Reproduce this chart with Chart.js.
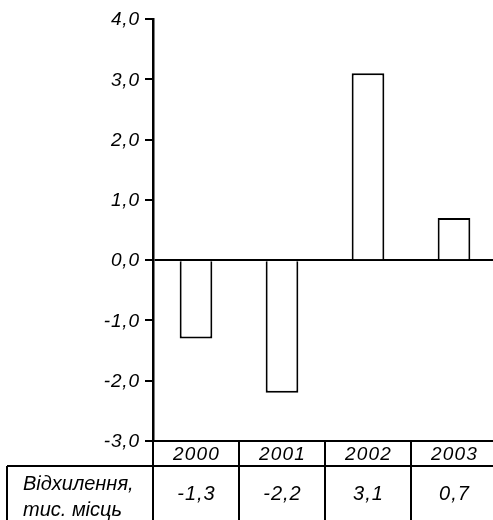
<!DOCTYPE html>
<html lang="uk">
<head>
    <meta charset="UTF-8">
    <title>Відхилення, тис. місць</title>
    <script src="https://cdn.jsdelivr.net/npm/chart.js"></script>
    <style>
        html, body {
            margin: 0;
            padding: 0;
            background: #fff;
            overflow: hidden;
        }
        .chart-container {
            width: 500px;
            height: 520px;
        }
    </style>
</head>
<body>
    <div class="chart-container">
        <canvas id="chart"></canvas>
    </div>

    <script>
        // data
        const years = ['2000', '2001', '2002', '2003'];
        const deviation = [-1.3, -2.2, 3.1, 0.7];
        const rowLabel = ['Відхилення,', 'тис. місць'];
        const yMin = -3;
        const yMax = 4;
        const yStep = 1;

        const FONT = "'Liberation Sans', Arial, sans-serif";
        const comma = v => v.toFixed(1).replace('.', ',');

        const YEAR_ROW = 25;   // height of the row with the years

        // the scanned figure has a bit of letter spacing: draw char by char
        function spaced(ctx, str, x, y, gap, align) {
            const chars = [...str];
            const widths = chars.map(c => ctx.measureText(c).width);
            const total = widths.reduce((a, b) => a + b, 0) + gap * (chars.length - 1);
            let cx = align === 'right' ? x - total : align === 'center' ? x - total / 2 : x;
            ctx.textAlign = 'left';
            chars.forEach((c, i) => {
                ctx.fillText(c, cx, y);
                cx += widths[i] + gap;
            });
        }

        const tablePlugin = {
            id: 'table',
            afterDraw(chart) {
                const { ctx, chartArea } = chart;
                const x = chart.scales.x;
                const y = chart.scales.y;
                const rowTop = chartArea.bottom + YEAR_ROW;
                const bottom = chart.height;

                ctx.save();
                ctx.strokeStyle = '#000';
                ctx.lineWidth = 2;
                ctx.beginPath();
                ctx.moveTo(7, rowTop);
                ctx.lineTo(chart.width, rowTop);
                ctx.moveTo(7, rowTop);
                ctx.lineTo(7, bottom);
                ctx.moveTo(chartArea.left, chartArea.bottom);
                ctx.lineTo(chartArea.left, bottom);
                for (let i = 0; i < years.length - 1; i++) {
                    const px = Math.round(x.getPixelForValue(i + 0.5));
                    ctx.moveTo(px, chartArea.bottom);
                    ctx.lineTo(px, bottom);
                }
                ctx.stroke();

                ctx.fillStyle = '#000';

                // y tick labels
                ctx.font = 'italic 19px ' + FONT;
                ctx.textBaseline = 'middle';
                y.ticks.forEach(t => {
                    spaced(ctx, comma(t.value), chartArea.left - 14, y.getPixelForValue(t.value) + 1, 0.8, 'right');
                });

                // years
                ctx.font = 'italic 19px ' + FONT;
                years.forEach((yr, i) => {
                    spaced(ctx, yr, x.getPixelForValue(i), chartArea.bottom + 14, 1.2, 'center');
                });

                // values row
                ctx.font = 'italic 20px ' + FONT;
                ctx.textBaseline = 'alphabetic';
                deviation.forEach((v, i) => {
                    spaced(ctx, comma(v), x.getPixelForValue(i), 500, 1, 'center');
                });

                // row caption
                ctx.font = 'italic 20px ' + FONT;
                ctx.textAlign = 'left';
                ctx.fillText(rowLabel[0], 23, 490);
                ctx.fillText(rowLabel[1], 23, 516);
                ctx.restore();
            }
        };

        new Chart(document.getElementById('chart'), {
            type: 'bar',
            data: {
                labels: years,
                datasets: [{
                    data: deviation,
                    backgroundColor: '#fff',
                    borderColor: '#000',
                    borderWidth: 2,
                    barPercentage: 0.38,
                    categoryPercentage: 1
                }]
            },
            options: {
                responsive: true,
                maintainAspectRatio: false,
                animation: false,
                layout: {
                    padding: { top: 19, right: 3, bottom: 54, left: 0 }
                },
                plugins: {
                    legend: { display: false },
                    tooltip: { enabled: false }
                },
                scales: {
                    x: {
                        offset: true,
                        afterFit: s => { s.height = YEAR_ROW; },
                        grid: { display: false, drawTicks: false },
                        border: { display: true, color: '#000', width: 2 },
                        ticks: { display: false }
                    },
                    y: {
                        min: yMin,
                        max: yMax,
                        z: 1,   // zero line over the bars
                        afterFit: s => { s.width = 153; },
                        grid: {
                            color: c => (c.tick && c.tick.value === 0) ? '#000' : 'rgba(0,0,0,0)',
                            tickColor: '#000',
                            lineWidth: 2,
                            tickLength: 8
                        },
                        border: { display: true, color: '#000', width: 2.5 },
                        ticks: {
                            stepSize: yStep,
                            display: false
                        }
                    }
                }
            },
            plugins: [tablePlugin]
        });
    </script>
</body>
</html>
